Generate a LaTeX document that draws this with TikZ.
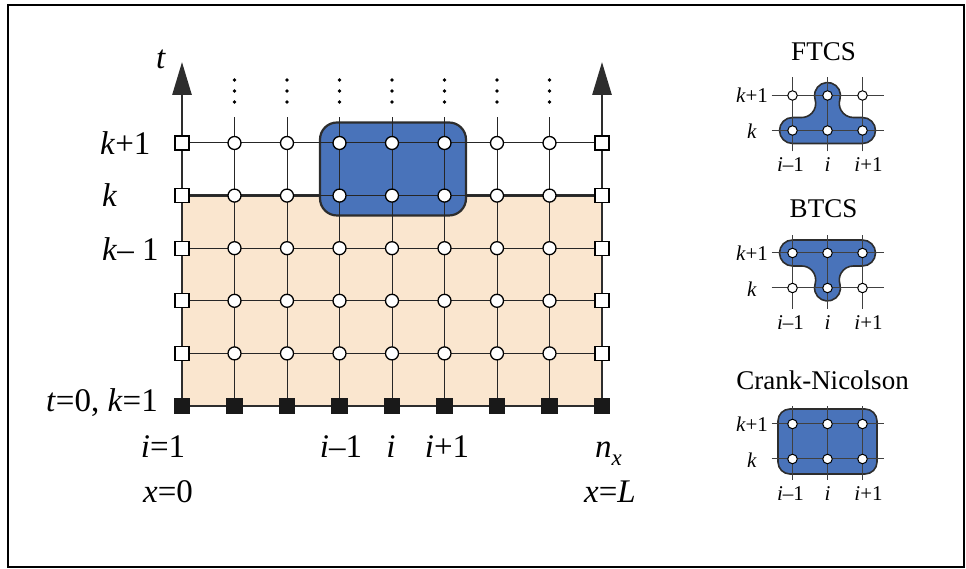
\documentclass[tikz,border=0pt]{standalone}
\usepackage{fontspec}
\setmainfont{Liberation Serif}
\usetikzlibrary{arrows.meta}
\definecolor{peach}{RGB}{250,230,207}
\definecolor{schemeblue}{RGB}{73,115,186}
\definecolor{edgegray}{RGB}{45,45,45}
\newcommand{\ftcspath}{%
  (-35,-13) -- (35,-13) arc[start angle=-90,end angle=90,radius=13]
  -- (25.79,13) arc[start angle=270,end angle=162.8,radius=14]
  arc[start angle=-17.2,end angle=197.2,radius=13]
  arc[start angle=17.2,end angle=-90,radius=14]
  -- (-35,13) arc[start angle=90,end angle=270,radius=13] -- cycle}
\newcommand{\minigrid}[1]{%
  \foreach \c/\cx in {a/-35,b/0,c/35}{%
    \foreach \r/\ry in {0/0,1/35}{\coordinate (#1-\c\r) at (\cx,\ry);}
    \coordinate (#1-\c bot) at (\cx,-21);
    \coordinate (#1-\c top) at (\cx,53);}
  \coordinate (#1-l0) at (-56,0); \coordinate (#1-r0) at (56,0);
  \coordinate (#1-l1) at (-56,35); \coordinate (#1-r1) at (56,35);
  \draw[minline] (#1-l0) -- (#1-r0);
  \draw[minline] (#1-l1) -- (#1-r1);
  \foreach \c in {a,b,c}{\draw[minline] (#1-\c bot) -- (#1-\c top);}
  \foreach \c in {a,b,c}{\foreach \r in {0,1}{\node[smallcirc] (#1-n\c\r) at (#1-\c\r) {};}}
  \node[smalllabel, anchor=base] (#1-lk1) at (-75.5,27.5) {\textit{k}+1};
  \node[smalllabel, anchor=base] (#1-lk) at (-75.5,-8.5) {\textit{k}};
  \node[smalllabel, anchor=base] (#1-lim) at (-37,-41.5) {\textit{i}–1};
  \node[smalllabel, anchor=base] (#1-li) at (0,-41.5) {\textit{i}};
  \node[smalllabel, anchor=base] (#1-lip) at (41,-41.5) {\textit{i}+1};
}
\begin{document}
\begin{tikzpicture}[x=1pt,y=1pt,
  gridthin/.style={line width=1pt, black!85},
  gridthick/.style={line width=2.6pt, edgegray},
  opencirc/.style={circle, draw=black, fill=white, line width=1.3pt, minimum size=13pt, inner sep=0pt},
  opensq/.style={rectangle, draw=black, fill=white, line width=1.3pt, minimum size=14pt, inner sep=0pt},
  solidsq/.style={rectangle, fill=black!90, minimum size=16.5pt, inner sep=0pt},
  biglabel/.style={font=\fontsize{33}{38}\selectfont, inner sep=0pt},
  smalllabel/.style={font=\fontsize{21}{24}\selectfont, inner sep=0pt},
  titlelabel/.style={font=\fontsize{27}{30}\selectfont, inner sep=0pt},
  minline/.style={line width=1pt, black!75},
  smallcirc/.style={circle, draw=black, fill=white, line width=1pt, minimum size=9.5pt, inner sep=0pt},
  blueshape/.style={fill=schemeblue, draw=edgegray, line width=1.6pt},
  bigbox/.style={fill=schemeblue, draw=edgegray, line width=2.2pt, rounded corners=17pt},
]
\useasboundingbox (0,0) rectangle (966,569);
\draw[line width=2pt] (8,2) rectangle (964,564);

% grid coordinates
\foreach \i in {0,...,8}{%
  \foreach \j in {0,...,5}{\coordinate (g-\i-\j) at ({182+52.5*\i},{163+52.6*\j});}
  \coordinate (top-\i) at ({182+52.5*\i},452);}
\coordinate (tipL) at (182,507);
\coordinate (tipR) at (602,507);

% known region
\fill[peach] (g-0-0) rectangle (g-8-4);
\draw[gridthick] (g-0-4) -- (g-8-4);
\draw[gridthick] (g-0-0) -- (g-8-0);

% stencil box
\draw[bigbox] (320,353.5) rectangle (466,446.5);

% thin grid lines
\foreach \j in {1,...,5}{\draw[gridthin] (g-0-\j) -- (g-8-\j);}
\foreach \i in {1,...,7}{\draw[gridthin] (g-\i-0) -- (top-\i);}

% axes
\draw[line width=2.8pt, edgegray, -{Triangle[length=33pt,width=19pt]}] (g-0-0) -- (tipL);
\draw[line width=2.8pt, edgegray, -{Triangle[length=33pt,width=19pt]}] (g-8-0) -- (tipR);

% continuation dots
\foreach \i in {1,...,7}{%
  \foreach \yy in {467,478,489}{\fill[black] ({182+52.5*\i},\yy) circle (1.8);}}

% nodes
\foreach \i in {1,...,7}{\foreach \j in {1,...,5}{\node[opencirc] (n-\i-\j) at (g-\i-\j) {};}}
\foreach \i in {0,8}{\foreach \j in {1,...,5}{\node[opensq] (n-\i-\j) at (g-\i-\j) {};}}
\foreach \i in {0,...,8}{\node[solidsq] (n-\i-0) at (g-\i-0) {};}

% labels
\node[biglabel, anchor=base] (lt) at (161,500) {\textit{t}};
\node[biglabel, anchor=base west] (lk1) at (100,414) {\textit{k}+1};
\node[biglabel, anchor=base west] (lk) at (102,362.4) {\textit{k}};
\node[biglabel, anchor=base west] (lkm) at (102,308.8) {\textit{k}– 1};
\node[biglabel, anchor=base east] (lt0) at (158,157) {\textit{t}=0, \textit{k}=1};
\node[biglabel, anchor=base] (li1) at (163,111) {\textit{i}=1};
\node[biglabel, anchor=base] (lim) at (341,111) {\textit{i}–1};
\node[biglabel, anchor=base] (li) at (391,111) {\textit{i}};
\node[biglabel, anchor=base] (lip) at (447,111) {\textit{i}+1};
\node[biglabel, anchor=base west] (lnx) at (595,111) {\textit{n}\raisebox{-8pt}{\fontsize{23}{25}\selectfont\textit{x}}};
\node[biglabel, anchor=base] (lx0) at (168,66) {\textit{x}=0};
\node[biglabel, anchor=base] (lxL) at (610,66) {\textit{x}=\textit{L}};

% FTCS
\begin{scope}[shift={(827.5,438.5)}]
  \fill[blueshape] \ftcspath;
  \minigrid{ftcs}
  \node[titlelabel, anchor=base] (ftcs-title) at (-4,70) {FTCS};
\end{scope}

% BTCS
\begin{scope}[shift={(827.5,281)}]
  \begin{scope}[shift={(0,35)}, yscale=-1]
    \fill[blueshape] \ftcspath;
  \end{scope}
  \minigrid{btcs}
  \node[titlelabel, anchor=base] (btcs-title) at (-4,70) {BTCS};
\end{scope}

% Crank-Nicolson
\begin{scope}[shift={(827.5,110)}]
  \fill[blueshape, rounded corners=12pt] (-49.5,-15) rectangle (49.5,50);
  \minigrid{cn}
  \node[titlelabel, anchor=base] (cn-title) at (-5,69) {Crank-Nicolson};
\end{scope}
\end{tikzpicture}
\end{document}
